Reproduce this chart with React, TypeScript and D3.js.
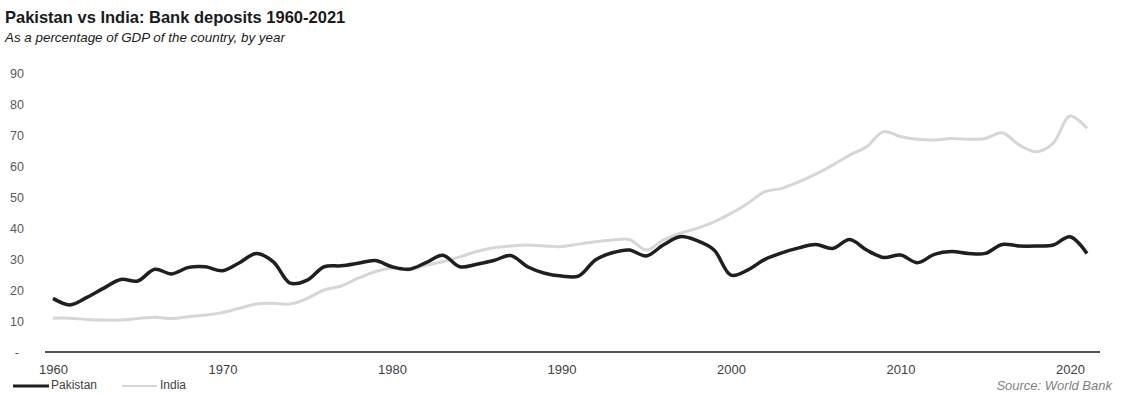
import React, { useEffect, useRef } from "react";
import * as d3 from "d3";

const years: number[] = d3.range(1960, 2022);

const pakistan: number[] = [
  17.3, 15.2, 17.6, 20.6, 23.4, 22.9, 26.7, 25.2, 27.3, 27.5,
  26.2, 28.8, 31.8, 29.1, 22.2, 23.2, 27.5, 27.8, 28.6, 29.5,
  27.5, 26.7, 28.8, 31.2, 27.5, 28.3, 29.5, 31.1, 27.5, 25.4,
  24.5, 24.5, 29.7, 32.0, 32.9, 31.0, 34.5, 37.2, 35.9, 32.9,
  24.8, 26.5, 29.9, 32.0, 33.6, 34.7, 33.4, 36.3, 32.9, 30.5,
  31.3, 28.8, 31.5, 32.4, 31.8, 31.8, 34.7, 34.2, 34.2, 34.5,
  37.2, 31.8,
];

const india: number[] = [
  10.9, 10.9, 10.5, 10.3, 10.3, 10.8, 11.2, 10.8, 11.4, 11.9,
  12.7, 14.1, 15.5, 15.7, 15.5, 17.3, 20.0, 21.3, 23.8, 25.9,
  27.0, 26.5, 28.0, 29.1, 30.7, 32.4, 33.6, 34.2, 34.5, 34.2,
  34.0, 34.8, 35.6, 36.1, 36.3, 32.9, 36.1, 38.3, 39.9, 42.0,
  44.7, 48.0, 51.7, 52.8, 54.9, 57.4, 60.3, 63.5, 66.2, 71.1,
  69.5, 68.6, 68.4, 68.9, 68.6, 68.9, 70.7, 66.8, 64.6, 67.3,
  76.1, 72.2,
];

const yTicks: number[] = [0, 10, 20, 30, 40, 50, 60, 70, 80, 90];
const xTicks: number[] = [1960, 1970, 1980, 1990, 2000, 2010, 2020];

const W = 1129;
const H = 393;

export default function App() {
  const ref = useRef<SVGSVGElement>(null);

  useEffect(() => {
    const svg = d3.select(ref.current);
    svg.selectAll("*").remove();

    const x = d3.scaleLinear().domain([1960, 2020]).range([53, 1070]);
    const y = d3.scaleLinear().domain([0, 90]).range([352, 73]);
    const font = "'Liberation Sans', Arial, sans-serif";

    svg.append("rect").attr("width", W).attr("height", H).attr("fill", "#ffffff");

    // Title
    svg.append("text")
      .attr("x", 5).attr("y", 23)
      .attr("font-family", font).attr("font-size", 16.5).attr("font-weight", "bold")
      .attr("fill", "#1a1a1a")
      .text("Pakistan vs India: Bank deposits 1960-2021");
    svg.append("text")
      .attr("x", 5).attr("y", 42)
      .attr("font-family", font).attr("font-size", 13.4).attr("font-style", "italic")
      .attr("fill", "#1a1a1a")
      .text("As a percentage of GDP of the country, by year");

    // Y tick labels
    const yAxis = d3.axisLeft(y).tickValues(yTicks).tickSize(0)
      .tickFormat((d) => (+d === 0 ? "-" : String(d)));
    const yg = svg.append("g").attr("transform", "translate(27,0)").call(yAxis);
    yg.select(".domain").remove();
    yg.selectAll("text")
      .attr("font-family", font).attr("font-size", 12.5).attr("fill", "#595959");
    yg.selectAll("text").filter((d: any) => +d === 0).attr("dx", -5);

    // X axis
    const xAxis = d3.axisBottom(x).tickValues(xTicks).tickSize(0).tickFormat(d3.format("d"));
    const xg = svg.append("g").attr("transform", "translate(0,352)").call(xAxis);
    xg.select(".domain").remove();
    xg.selectAll("text")
      .attr("font-family", font).attr("font-size", 13).attr("fill", "#404040")
      .attr("y", 13).attr("dy", "0.71em");
    svg.append("line")
      .attr("x1", 45).attr("x2", 1100).attr("y1", 352).attr("y2", 352)
      .attr("stroke", "#1a1a1a").attr("stroke-width", 1.5);

    const line = d3.line<number>()
      .x((_, i) => x(years[i]))
      .y((d) => y(d))
      .curve(d3.curveCatmullRom.alpha(0.5));

    svg.append("path").datum(india)
      .attr("d", line).attr("fill", "none")
      .attr("stroke", "#d6d6d6").attr("stroke-width", 3);
    svg.append("path").datum(pakistan)
      .attr("d", line).attr("fill", "none")
      .attr("stroke", "#1f1f1f").attr("stroke-width", 3.5);

    // Legend
    const lg = svg.append("g");
    lg.append("line").attr("x1", 13).attr("x2", 49).attr("y1", 386).attr("y2", 386)
      .attr("stroke", "#1f1f1f").attr("stroke-width", 3);
    lg.append("text").attr("x", 51).attr("y", 389)
      .attr("font-family", font).attr("font-size", 12).attr("fill", "#404040")
      .text("Pakistan");
    lg.append("line").attr("x1", 122).attr("x2", 157).attr("y1", 386).attr("y2", 386)
      .attr("stroke", "#d6d6d6").attr("stroke-width", 2);
    lg.append("text").attr("x", 160).attr("y", 389)
      .attr("font-family", font).attr("font-size", 12).attr("fill", "#404040")
      .text("India");

    // Source
    svg.append("text")
      .attr("x", 1112).attr("y", 390).attr("text-anchor", "end")
      .attr("font-family", font).attr("font-size", 13).attr("font-style", "italic")
      .attr("fill", "#7f7f7f")
      .text("Source: World Bank");
  }, []);

  return (
    <svg
      ref={ref}
      width={W}
      height={H}
      style={{ position: "absolute", left: 0, top: 0, display: "block" }}
    />
  );
}
